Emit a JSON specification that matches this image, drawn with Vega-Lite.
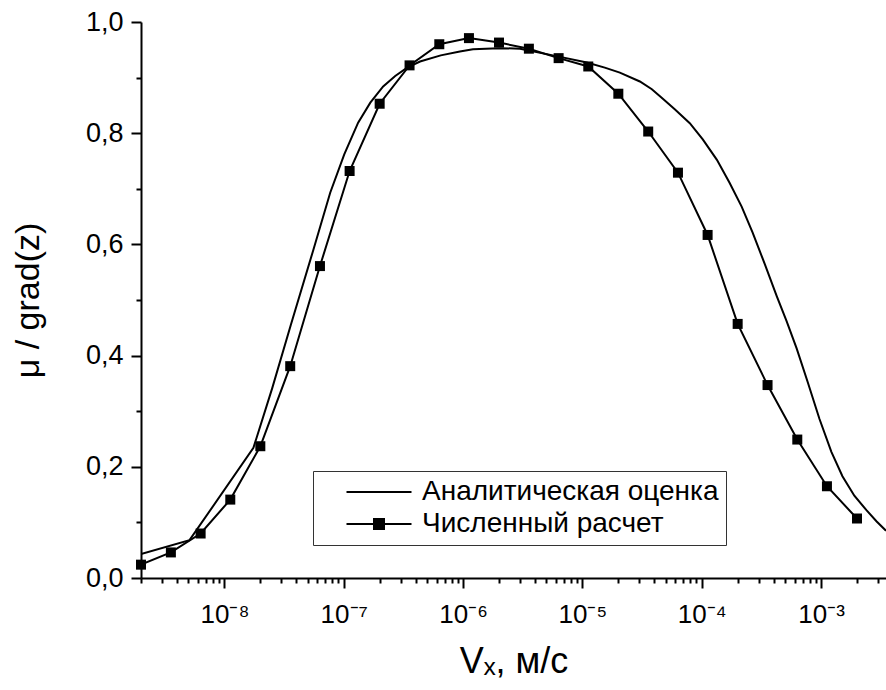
{
  "$schema": "https://vega.github.io/schema/vega-lite/v6.json",
  "width": 745,
  "height": 556,
  "autosize": {"type": "none"},
  "padding": {"left": 141, "top": 22, "right": 0, "bottom": 112},
  "background": "white",
  "config": {
    "view": {"stroke": null},
    "font": "Liberation Sans",
    "axis": {"domainColor": "black", "domainWidth": 2, "tickColor": "black", "tickWidth": 2, "labelColor": "black", "titleColor": "black", "grid": false, "labelFont": "Liberation Sans", "titleFont": "Liberation Sans", "titleFontWeight": "normal"}
  },
  "datasets": {
    "analytic": [
      {"v": 2.0e-9, "mu": 0.043},
      {"v": 5.1e-9, "mu": 0.068},
      {"v": 1.75e-8, "mu": 0.234},
      {"v": 2.52e-8, "mu": 0.342},
      {"v": 3.6e-8, "mu": 0.455},
      {"v": 5.56e-8, "mu": 0.59},
      {"v": 7.7e-8, "mu": 0.693},
      {"v": 1.01e-7, "mu": 0.762},
      {"v": 1.32e-7, "mu": 0.819},
      {"v": 1.67e-7, "mu": 0.855},
      {"v": 2.14e-7, "mu": 0.884},
      {"v": 2.7e-7, "mu": 0.903},
      {"v": 3.4e-7, "mu": 0.918},
      {"v": 4.36e-7, "mu": 0.929},
      {"v": 6.5e-7, "mu": 0.94},
      {"v": 9.4e-7, "mu": 0.947},
      {"v": 1.21e-6, "mu": 0.951},
      {"v": 2.0e-6, "mu": 0.953},
      {"v": 3.0e-6, "mu": 0.952},
      {"v": 5.66e-6, "mu": 0.94},
      {"v": 1.09e-5, "mu": 0.927},
      {"v": 1.54e-5, "mu": 0.918},
      {"v": 2.06e-5, "mu": 0.909},
      {"v": 3.03e-5, "mu": 0.893},
      {"v": 3.82e-5, "mu": 0.879},
      {"v": 4.72e-5, "mu": 0.862},
      {"v": 5.94e-5, "mu": 0.843},
      {"v": 7.94e-5, "mu": 0.818},
      {"v": 1.02e-4, "mu": 0.789},
      {"v": 1.34e-4, "mu": 0.752},
      {"v": 1.71e-4, "mu": 0.711},
      {"v": 2.16e-4, "mu": 0.668},
      {"v": 2.67e-4, "mu": 0.621},
      {"v": 3.37e-4, "mu": 0.565},
      {"v": 4.25e-4, "mu": 0.507},
      {"v": 5.14e-4, "mu": 0.462},
      {"v": 6.24e-4, "mu": 0.413},
      {"v": 7.71e-4, "mu": 0.353},
      {"v": 9.7e-4, "mu": 0.286},
      {"v": 1.22e-3, "mu": 0.227},
      {"v": 1.51e-3, "mu": 0.183},
      {"v": 1.9e-3, "mu": 0.148},
      {"v": 2.4e-3, "mu": 0.122},
      {"v": 2.91e-3, "mu": 0.102},
      {"v": 3.5e-3, "mu": 0.085}
    ],
    "numeric": [
      {"v": 2.0e-9, "mu": 0.024},
      {"v": 3.56e-9, "mu": 0.046},
      {"v": 6.32e-9, "mu": 0.08},
      {"v": 1.12e-8, "mu": 0.141},
      {"v": 2.0e-8, "mu": 0.237},
      {"v": 3.56e-8, "mu": 0.381},
      {"v": 6.32e-8, "mu": 0.561},
      {"v": 1.12e-7, "mu": 0.732},
      {"v": 2.0e-7, "mu": 0.853},
      {"v": 3.56e-7, "mu": 0.922},
      {"v": 6.32e-7, "mu": 0.96},
      {"v": 1.12e-6, "mu": 0.971},
      {"v": 2.0e-6, "mu": 0.963},
      {"v": 3.56e-6, "mu": 0.952},
      {"v": 6.32e-6, "mu": 0.935},
      {"v": 1.12e-5, "mu": 0.92},
      {"v": 2.0e-5, "mu": 0.871},
      {"v": 3.56e-5, "mu": 0.803},
      {"v": 6.32e-5, "mu": 0.729},
      {"v": 1.12e-4, "mu": 0.617},
      {"v": 2.0e-4, "mu": 0.457},
      {"v": 3.56e-4, "mu": 0.347},
      {"v": 6.32e-4, "mu": 0.249},
      {"v": 1.12e-3, "mu": 0.165},
      {"v": 2.0e-3, "mu": 0.107}
    ]
  },
  "encoding": {
    "x": {
      "field": "v", "type": "quantitative",
      "scale": {"type": "log", "domain": [2.0e-9, 3.5e-3], "nice": false},
      "axis": {
        "title": "Vₓ, м/с",
        "titleFontSize": 36,
        "titlePadding": 17,
        "values": [2e-9,3e-9,4e-9,5e-9,6e-9,7e-9,8e-9,9e-9,1e-8,2e-8,3e-8,4e-8,5e-8,6e-8,7e-8,8e-8,9e-8,1e-7,2e-7,3e-7,4e-7,5e-7,6e-7,7e-7,8e-7,9e-7,1e-6,2e-6,3e-6,4e-6,5e-6,6e-6,7e-6,8e-6,9e-6,1e-5,2e-5,3e-5,4e-5,5e-5,6e-5,7e-5,8e-5,9e-5,1e-4,2e-4,3e-4,4e-4,5e-4,6e-4,7e-4,8e-4,9e-4,1e-3,2e-3,3e-3],
        "tickSize": {"condition": {"test": "abs(log(datum.value)/LN10 - round(log(datum.value)/LN10)) < 0.001", "value": 10}, "value": 5},
        "labelExpr": "abs(log(datum.value)/LN10 - round(log(datum.value)/LN10)) < 0.001 ? '10⁻' + substring('⁰¹²³⁴⁵⁶⁷⁸⁹', abs(round(log(datum.value)/LN10)), abs(round(log(datum.value)/LN10)) + 1) : ''",
        "labelFontSize": 26,
        "labelPadding": 13,
        "labelOverlap": false,
        "labelFlush": false,
        "labelBound": false
      }
    },
    "y": {
      "field": "mu", "type": "quantitative",
      "scale": {"domain": [0, 1], "nice": false},
      "axis": {
        "title": "μ / grad(z)",
        "titleFontSize": 34,
        "titlePadding": 40,
        "values": [0,0.1,0.2,0.3,0.4,0.5,0.6,0.7,0.8,0.9,1.0],
        "tickSize": {"condition": {"test": "round(datum.value*10) % 2 == 0", "value": 10}, "value": 5},
        "labelExpr": "round(datum.value*10) % 2 == 0 ? replace(format(datum.value, '.1f'), '.', ',') : ''",
        "labelFontSize": 27,
        "labelPadding": 8,
        "labelOverlap": false,
        "labelFlush": false,
        "labelBound": false
      }
    }
  },
  "layer": [
    {
      "data": {"name": "analytic"},
      "transform": [{"calculate": "'Аналитическая оценка'", "as": "series"}],
      "mark": {"type": "line", "strokeWidth": 2, "clip": true},
      "encoding": {
        "color": {
          "field": "series", "type": "nominal",
          "scale": {"domain": ["Аналитическая оценка", "Численный расчет"], "range": ["black", "black"]},
          "legend": {
            "title": null,
            "orient": "none",
            "legendX": 172,
            "legendY": 449,
            "direction": "vertical",
            "strokeColor": "#333333",
            "fillColor": "white",
            "padding": 7,
            "symbolOffset": 45,
            "labelOffset": 29,
            "labelFontSize": 28,
            "labelLimit": 600,
            "labelFont": "Liberation Sans",
            "labelColor": "black",
            "rowPadding": 4,
            "symbolSize": 100,
            "encode": {
              "symbols": {
                "update": {
                  "shape": {"signal": "datum.value === 'Численный расчет' ? 'M-6.5,0H6.5M-1,-1H1V1H-1Z' : 'M-6.5,0H6.5'"},
                  "fill": {"value": "black"},
                  "stroke": {"value": "black"},
                  "strokeWidth": {"value": 2},
                  "size": {"value": 100}
                }
              }
            }
          }
        }
      }
    },
    {
      "data": {"name": "numeric"},
      "transform": [{"calculate": "'Численный расчет'", "as": "series"}],
      "mark": {"type": "line", "strokeWidth": 2, "clip": true},
      "encoding": {"color": {"field": "series", "type": "nominal"}}
    },
    {
      "data": {"name": "numeric"},
      "transform": [{"calculate": "'Численный расчет'", "as": "series"}],
      "mark": {"type": "point", "shape": "square", "filled": true, "size": 100, "opacity": 1},
      "encoding": {"color": {"field": "series", "type": "nominal"}}
    }
  ]
}
